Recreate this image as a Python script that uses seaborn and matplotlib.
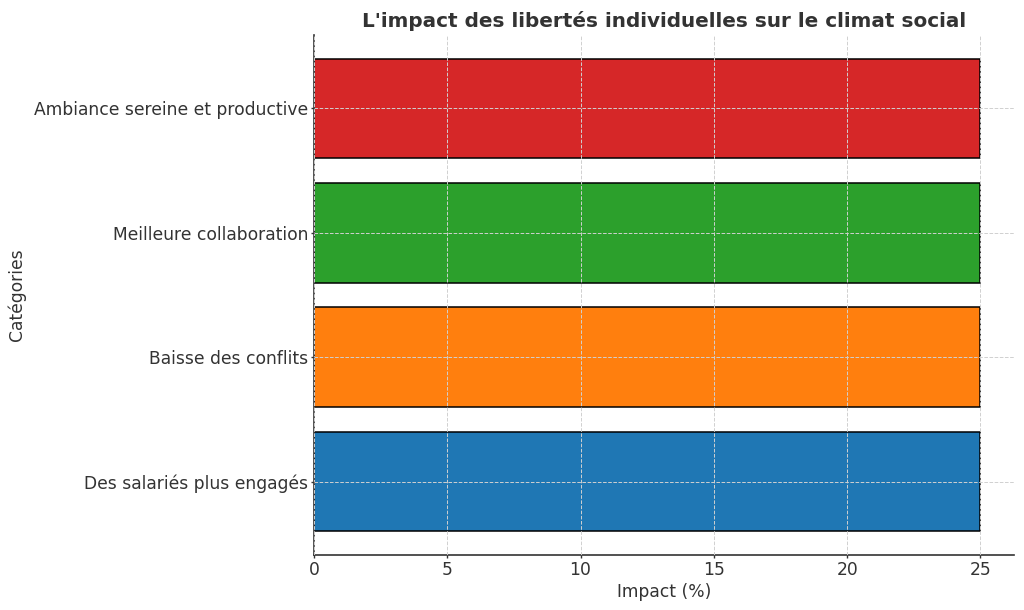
import matplotlib
matplotlib.use("Agg")
import matplotlib.pyplot as plt
import seaborn as sns
import pandas as pd

# data
categories = ["Ambiance sereine et productive", "Meilleure collaboration",
              "Baisse des conflits", "Des salariés plus engagés"]
impact = [25, 25, 25, 25]
colors = ["#d62728", "#2ca02c", "#ff7f0e", "#1f77b4"]

df = pd.DataFrame({"Catégories": categories, "Impact (%)": impact})

sns.set_style("white")
plt.rcParams["font.family"] = ["DejaVu Sans"]
plt.rcParams["text.color"] = "#333333"
plt.rcParams["axes.labelcolor"] = "#333333"
plt.rcParams["xtick.color"] = "#333333"
plt.rcParams["ytick.color"] = "#333333"

fig = plt.figure(figsize=(10.24, 6.1), dpi=100)
ax = fig.add_axes([0.3066, 0.0902, 0.6834, 0.8524])

sns.barplot(data=df, x="Impact (%)", y="Catégories", hue="Catégories",
            palette=colors, saturation=1, legend=False, width=0.8,
            edgecolor="black", linewidth=1.1, ax=ax)

ax.set_xlim(0, 26.25)
ax.set_ylim(3.59, -0.59)
ax.set_xticks([0, 5, 10, 15, 20, 25])

ax.grid(True, linestyle="--", color="#d0d0d0", linewidth=0.7)
ax.set_axisbelow(False)
for side in ["top", "right"]:
    ax.spines[side].set_visible(False)
for side in ["left", "bottom"]:
    ax.spines[side].set_color("#333333")
    ax.spines[side].set_linewidth(1.2)

ax.tick_params(axis="both", which="both", labelsize=12.3, length=2.5,
               width=1, direction="out", left=True, bottom=True, pad=1.5)
ax.set_xlabel("Impact (%)", fontsize=12.3, labelpad=3)
ax.set_ylabel("Catégories", fontsize=12.3, labelpad=6)
ax.set_title("L'impact des libertés individuelles sur le climat social",
             fontsize=14.4, fontweight="bold", color="#333333", pad=6)

fig.savefig("out.png", dpi=100)
